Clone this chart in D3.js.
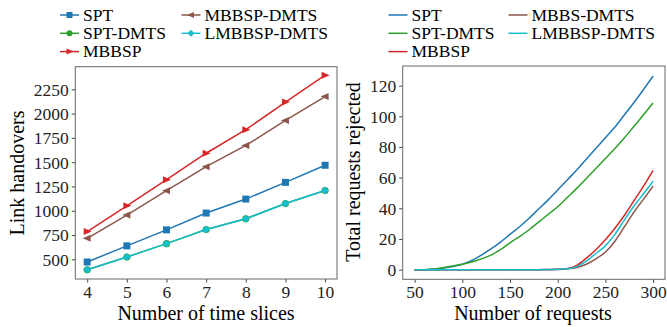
<!DOCTYPE html>
<html>
<head>
<meta charset="utf-8">
<script src="https://cdn.jsdelivr.net/npm/d3@7"></script>
<style>
  body { margin: 0; background: #fff; }
</style>
</head>
<body>
<svg id="chart" width="667" height="327"></svg>
<script>
// left panel: link handovers vs number of time slices
var slices = [4, 5, 6, 7, 8, 9, 10];
var spt_ho = [472, 638, 803, 976, 1120, 1292, 1468];
var sptdmts_ho = [393, 524, 661, 806, 917, 1075, 1209];
var mbbsp_ho = [785, 1051, 1320, 1592, 1834, 2119, 2396];
var mbbspdmts_ho = [716, 955, 1206, 1454, 1672, 1930, 2175];
var lmbbsp_ho = [393, 524, 661, 806, 917, 1075, 1209];
var leftYTicks = [500, 750, 1000, 1250, 1500, 1750, 2000, 2250];

// right panel: total requests rejected vs number of requests
var requests = [50, 60, 70, 80, 90, 100, 110, 120, 130, 140, 150, 160, 170, 180, 190, 200, 210, 220, 230, 240, 250, 260, 270, 280, 290, 300];
var spt_rej = [0, 0, 0.3, 1, 2, 3.5, 6, 9.5, 13.5, 18, 23, 28, 33.5, 39.5, 45.5, 52, 58.5, 65, 72, 79, 86, 93, 101, 109, 117.5, 126.3];
var sptdmts_rej = [0, 0, 0.5, 1.3, 2.3, 3.5, 5, 7, 9.5, 13, 17.5, 21.5, 26, 31, 36, 41, 47, 53, 59.5, 66, 72.5, 79, 86, 93.5, 101, 108.7];
var mbbsp_rej = [0, 0, 0, 0, 0, 0, 0, 0, 0, 0, 0, 0, 0, 0, 0.1, 0.2, 0.7, 2.8, 7.5, 13, 19.5, 27, 35.5, 45, 54.5, 64.8];
var mbbsdmts_rej = [0, 0, 0, 0, 0, 0, 0, 0, 0, 0, 0, 0, 0, 0, 0, 0.1, 0.5, 1.4, 3.5, 7, 11.5, 18.5, 28, 37.5, 46, 54.4];
var lmbbsp_rej = [0, 0, 0, 0, 0, 0, 0, 0, 0, 0, 0, 0, 0, 0, 0.1, 0.2, 0.6, 2, 5.5, 10.5, 15.5, 23, 32.5, 41.5, 49.5, 57.6];
var rightYTicks = [0, 20, 40, 60, 80, 100, 120];
var rightXTicks = [50, 100, 150, 200, 250, 300];

var leftNames = ["SPT", "SPT-DMTS", "MBBSP", "MBBSP-DMTS", "LMBBSP-DMTS"];
var rightNames = ["SPT", "SPT-DMTS", "MBBSP", "MBBS-DMTS", "LMBBSP-DMTS"];
var colors = ["#1f77b4", "#2ca02c", "#d62728", "#8c564b", "#17becf"];
var markers = ["square", "circle", "tri-right", "tri-left", "diamond"];

var svg = d3.select("#chart");
var serif = "'Liberation Serif', 'Times New Roman', Times, 'DejaVu Serif', serif";
var tickFont = 17.5;
var labelFont = 20;

function markerPath(type, s) {
    var h = s / 2;
    if (type == "square") return "M" + (-h) + "," + (-h) + "h" + s + "v" + s + "h" + (-s) + "Z";
    if (type == "tri-right") return "M" + (h + 1) + ",0L" + (-h) + "," + (-h) + "L" + (-h) + "," + h + "Z";
    if (type == "tri-left") return "M" + (-h - 1) + ",0L" + h + "," + (-h) + "L" + h + "," + h + "Z";
    if (type == "diamond") return "M0," + (-h - 0.5) + "L" + (h + 0.5) + ",0L0," + (h + 0.5) + "L" + (-h - 0.5) + ",0Z";
    return d3.symbol().type(d3.symbolCircle).size(s * s * 0.8)();
}

function drawFrame(g, x, y, xTicks, yTicks) {
    var r = x.range(), ry = y.range();
    g.append("g")
        .attr("transform", "translate(0," + ry[0] + ")")
        .call(d3.axisBottom(x).tickValues(xTicks).tickSize(3.5).tickSizeOuter(0).tickPadding(3).tickFormat(d3.format("d")))
        .call(function (a) {
            a.select(".domain").remove();
            a.selectAll("line").attr("stroke", "#444");
            a.selectAll("text").attr("fill", "#222");
        });
    g.append("g")
        .attr("transform", "translate(" + r[0] + ",0)")
        .call(d3.axisLeft(y).tickValues(yTicks).tickSize(3.5).tickSizeOuter(0).tickPadding(3).tickFormat(d3.format("d")))
        .call(function (a) {
            a.select(".domain").remove();
            a.selectAll("line").attr("stroke", "#444");
            a.selectAll("text").attr("fill", "#222").attr("dy", "0.34em");
        });
    g.append("rect")
        .attr("x", r[0]).attr("y", ry[1])
        .attr("width", r[1] - r[0]).attr("height", ry[0] - ry[1])
        .attr("fill", "none").attr("stroke", "#666").attr("stroke-width", 1);
}

function drawLegend(g, names, x0, x1, withMarkers) {
    var cols = [x0, x1];
    names.forEach(function (n, i) {
        var col = i < 3 ? 0 : 1;
        var row = i < 3 ? i : i - 3;
        var lx = cols[col], ly = 15 + row * 18.3;
        var it = g.append("g").attr("transform", "translate(" + lx + "," + ly + ")");
        it.append("line").attr("x1", 0).attr("x2", 19).attr("y1", 0).attr("y2", 0)
            .attr("stroke", colors[i]).attr("stroke-width", 1.5);
        if (withMarkers) {
            it.append("path").attr("d", markerPath(markers[i], 6))
                .attr("transform", "translate(9.5,0)").attr("fill", colors[i]);
        }
        it.append("text").attr("x", 23).attr("y", 5.7).attr("font-size", tickFont).text(n);
    });
}

// ---------- left panel ----------
var gl = svg.append("g");
var xl = d3.scaleLinear().domain([3.7, 10.3]).range([75.3, 337]);
var yl = d3.scaleLinear().domain([297, 2483]).range([279, 66.7]);
drawFrame(gl, xl, yl, slices, leftYTicks);

var leftSeries = [spt_ho, sptdmts_ho, mbbsp_ho, mbbspdmts_ho, lmbbsp_ho];
var lineL = d3.line().x(function (d) { return xl(d[0]); }).y(function (d) { return yl(d[1]); });
leftSeries.forEach(function (vals, k) {
    var pts = slices.map(function (s, i) { return [s, vals[i]]; });
    gl.append("path").datum(pts).attr("d", lineL)
        .attr("fill", "none").attr("stroke", colors[k]).attr("stroke-width", 1.5);
    gl.selectAll(".m" + k).data(pts).enter().append("path")
        .attr("d", markerPath(markers[k], 7))
        .attr("transform", function (d) { return "translate(" + xl(d[0]) + "," + yl(d[1]) + ")"; })
        .attr("fill", colors[k]);
});

gl.append("text").attr("x", 206).attr("y", 320).attr("text-anchor", "middle")
    .attr("font-size", labelFont).text("Number of time slices");
gl.append("text").attr("transform", "translate(24,173) rotate(-90)").attr("text-anchor", "middle")
    .attr("font-size", labelFont).text("Link handovers");
drawLegend(gl, leftNames, 60, 181.5, true);

// ---------- right panel ----------
var gr = svg.append("g");
var xr = d3.scaleLinear().domain([37.5, 312.5]).range([402.7, 665]);
var yr = d3.scaleLinear().domain([-6.3, 132.8]).range([279.3, 66]);
drawFrame(gr, xr, yr, rightXTicks, rightYTicks);

var rightSeries = [spt_rej, sptdmts_rej, mbbsp_rej, mbbsdmts_rej, lmbbsp_rej];
var lineR = d3.line().curve(d3.curveMonotoneX)
    .x(function (d) { return xr(d[0]); }).y(function (d) { return yr(d[1]); });
rightSeries.forEach(function (vals, k) {
    var pts = requests.map(function (s, i) { return [s, vals[i]]; });
    gr.append("path").datum(pts).attr("d", lineR)
        .attr("fill", "none").attr("stroke", colors[k]).attr("stroke-width", 1.5);
});

gr.append("text").attr("x", 533).attr("y", 320).attr("text-anchor", "middle")
    .attr("font-size", labelFont).text("Number of requests");
gr.append("text").attr("transform", "translate(360,172) rotate(-90)").attr("text-anchor", "middle")
    .attr("font-size", labelFont).text("Total requests rejected");
drawLegend(gr, rightNames, 388.5, 508.5, false);

// apply the serif face and tick size to every label after the axes are built
svg.selectAll("text").style("font-family", serif);
svg.selectAll(".tick text").style("font-size", tickFont + "px");
</script>
</body>
</html>
